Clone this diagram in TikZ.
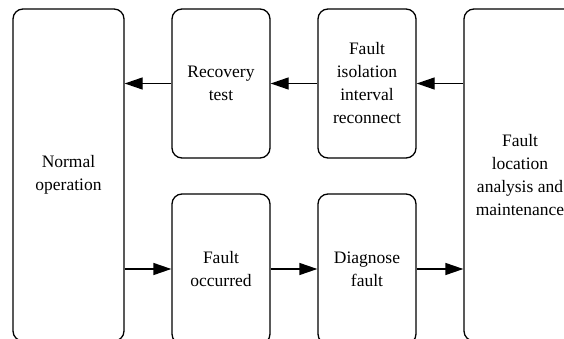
\documentclass[tikz,border=0pt]{standalone}
\usepackage{fontspec}
\setmainfont{Liberation Serif}
\usetikzlibrary{arrows.meta}
\tikzset{
  box/.style={draw, line width=1.3pt, rounded corners=10pt, align=center,
    inner sep=0pt, font=\fontsize{17.5}{23}\selectfont},
  arr/.style={line width=1.3pt, -{Triangle[length=18pt,width=12pt]}}
}
\begin{document}
\begin{tikzpicture}[x=1pt,y=-1pt]
\useasboundingbox (0,0) rectangle (564,339);
\clip (0,0) rectangle (564,339);
\node[box, minimum width=111pt, minimum height=332pt] (normal) at (68.5,175) {Normal\\operation};
\node[box, minimum width=98pt, minimum height=149pt] (recovery) at (221,83.5) {Recovery\\test};
\node[box, minimum width=98pt, minimum height=149pt] (isolation) at (367,83.5) {Fault\\isolation\\interval\\reconnect};
\node[box, minimum width=112pt, minimum height=332pt] (location) at (520,175) {Fault\\location\\analysis and\\maintenance};
\node[box, minimum width=98pt, minimum height=150pt] (occurred) at (221,269) {Fault\\occurred};
\node[box, minimum width=98pt, minimum height=150pt] (diagnose) at (367,269) {Diagnose\\fault};
\draw[arr] (location.west |- isolation) -- (isolation.east);
\draw[arr] (isolation.west) -- (recovery.east);
\draw[arr] (recovery.west) -- (normal.east |- recovery);
\draw[arr] (normal.east |- occurred) -- (occurred.west);
\draw[arr] (occurred.east) -- (diagnose.west);
\draw[arr] (diagnose.east) -- (location.west |- diagnose);
\end{tikzpicture}
\end{document}
